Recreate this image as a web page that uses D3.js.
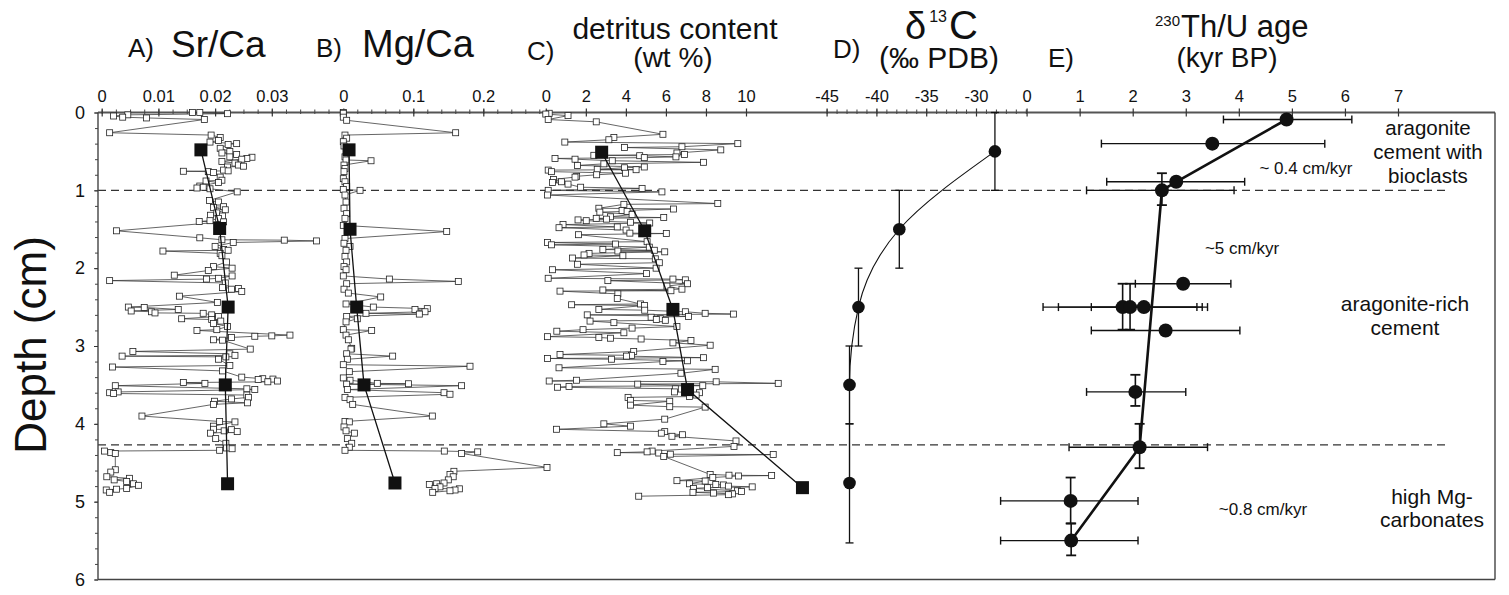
<!DOCTYPE html>
<html lang="en">
<head>
<meta charset="utf-8">
<title>Depth profiles: Sr/Ca, Mg/Ca, detritus, d13C, Th/U age</title>
<script src="https://d3js.org/d3.v7.min.js"></script>
<style>
  body { margin: 0; background: #fff; }
  svg text { font-family: "Liberation Sans", Arial, Helvetica, sans-serif; fill: #111; }
</style>
</head>
<body>
<div id="chart"></div>
<script>

/* ------------------------------------------------------------
 *  Data
 * ------------------------------------------------------------ */
// A) Sr/Ca, single samples
var srDepth = [0.00,0.00,0.015,0.03,0.045,0.06,0.07,0.09,0.26,0.29,0.32,0.36,0.38,0.40,0.41,0.46,0.50,0.52,0.54,0.57,0.575,0.59,0.60,0.63,0.65,0.675,0.69,0.70,0.74,0.75,0.755,0.76,0.77,0.83,0.87,0.88,0.90,0.945,0.96,0.97,0.98,1.02,1.13,1.15,1.21,1.22,1.25,1.29,1.32,1.33,1.36,1.39,1.40,1.405,1.52,1.61,1.635,1.64,1.65,1.67,1.72,1.76,1.77,1.78,1.81,1.84,1.92,1.98,2.00,2.03,2.09,2.10,2.13,2.14,2.16,2.19,2.25,2.26,2.27,2.30,2.36,2.44,2.50,2.505,2.53,2.55,2.56,2.575,2.58,2.60,2.62,2.65,2.66,2.68,2.71,2.75,2.79,2.80,2.86,2.87,2.875,2.89,2.92,2.925,3.04,3.07,3.10,3.12,3.13,3.14,3.17,3.25,3.27,3.32,3.40,3.42,3.425,3.43,3.45,3.46,3.47,3.48,3.51,3.55,3.56,3.59,3.60,3.61,3.63,3.66,3.68,3.71,3.73,3.75,3.90,3.97,3.975,4.03,4.07,4.075,4.09,4.10,4.12,4.19,4.25,4.31,4.32,4.34,4.35,4.37,4.38,4.59,4.62,4.68,4.70,4.72,4.74,4.77,4.79,4.83,4.84,4.85,4.88];
var srCa = [0.0160,0.0173,0.0222,0.0046,0.0021,0.0037,0.0079,0.0181,0.0014,0.0193,0.0209,0.0206,0.0191,0.0238,0.0223,0.0209,0.0226,0.0212,0.0238,0.0226,0.0265,0.0256,0.0247,0.0212,0.0235,0.0241,0.0250,0.0222,0.0215,0.0223,0.0144,0.0188,0.0197,0.0209,0.0212,0.0184,0.0206,0.0173,0.0179,0.0168,0.0191,0.0239,0.0190,0.0206,0.0215,0.0197,0.0218,0.0203,0.0192,0.0213,0.0206,0.0191,0.0172,0.0215,0.0026,0.0173,0.0212,0.0322,0.0379,0.0232,0.0200,0.0215,0.0223,0.0108,0.0209,0.0212,0.0220,0.0197,0.0230,0.0188,0.0128,0.0230,0.0206,0.0185,0.0014,0.0218,0.0213,0.0241,0.0229,0.0247,0.0137,0.0204,0.0047,0.0075,0.0135,0.0052,0.0088,0.0094,0.0179,0.0194,0.0206,0.0141,0.0194,0.0210,0.0197,0.0222,0.0203,0.0168,0.0332,0.0300,0.0270,0.0229,0.0197,0.0213,0.0262,0.0055,0.0226,0.0235,0.0036,0.0219,0.0206,0.0226,0.0019,0.0213,0.0247,0.0284,0.0302,0.0276,0.0310,0.0293,0.0144,0.0182,0.0024,0.0256,0.0270,0.0029,0.0014,0.0021,0.0256,0.0259,0.0229,0.0199,0.0257,0.0197,0.0071,0.0208,0.0235,0.0197,0.0197,0.0229,0.0216,0.0239,0.0192,0.0201,0.0219,0.0220,0.0230,0.0208,0.0005,0.0016,0.0024,0.0024,0.0016,0.0009,0.0049,0.0022,0.0044,0.0056,0.0065,0.0044,0.0026,0.0008,0.0014];
var srMeanDepth = [0.48, 1.49, 2.50, 3.50, 4.77];
var srMean = [0.0175, 0.0208, 0.0223, 0.0218, 0.0222];

// B) Mg/Ca, single samples
var mgDepth = [0.00,0.01,0.06,0.10,0.26,0.29,0.33,0.375,0.43,0.57,0.61,0.62,0.675,0.72,0.76,0.85,0.89,0.95,0.99,1.00,1.06,1.15,1.23,1.30,1.36,1.45,1.53,1.62,1.68,1.72,1.77,1.85,1.92,1.98,2.02,2.10,2.14,2.17,2.20,2.27,2.32,2.37,2.46,2.50,2.52,2.53,2.56,2.58,2.59,2.62,2.65,2.69,2.79,2.80,2.86,2.92,3.03,3.04,3.10,3.13,3.17,3.24,3.26,3.33,3.41,3.44,3.48,3.485,3.49,3.51,3.56,3.60,3.62,3.66,3.69,3.75,3.90,3.97,3.975,4.04,4.09,4.12,4.19,4.25,4.30,4.34,4.35,4.36,4.38,4.56,4.61,4.65,4.68,4.72,4.76,4.77,4.78,4.81,4.83,4.835,4.85,4.86,4.88];
var mgCa = [0.000,0.000,0.000,0.0048,0.1605,0.0024,0.0048,0.000,0.0010,0.0024,0.0039,0.0396,0.0010,0.0024,0.0010,0.000,0.0024,0.0048,0.000,0.0239,0.0024,0.0039,0.0010,0.0048,0.0024,0.000,0.1477,0.0024,0.0010,0.0096,0.0039,0.0024,0.0048,0.0010,0.0039,0.000,0.0658,0.1643,0.0048,0.0010,0.0072,0.0534,0.0039,0.0429,0.1200,0.1024,0.1167,0.0324,0.1086,0.0048,0.0200,0.0039,0.000,0.0405,0.0039,0.0072,0.0120,0.0110,0.0048,0.0705,0.0058,0.000,0.1810,0.0086,0.000,0.0096,0.0486,0.0930,0.0048,0.1690,0.0058,0.1439,0.1524,0.0024,0.0096,0.0134,0.1272,0.0024,0.0086,0.0010,0.0039,0.0158,0.0058,0.0120,0.0086,0.0024,0.1443,0.1920,0.1690,0.2910,0.1580,0.1524,0.1570,0.1500,0.1439,0.1334,0.1229,0.1381,0.1310,0.1658,0.1596,0.1524,0.1277];
var mgMeanDepth = [0.48, 1.50, 2.50, 3.50, 4.76];
var mgMean = [0.0082, 0.0096, 0.0191, 0.0296, 0.0738];

// C) detritus content (wt %), single samples
var detDepth = [0.01,0.02,0.04,0.09,0.12,0.28,0.32,0.35,0.38,0.40,0.44,0.45,0.48,0.52,0.54,0.55,0.555,0.57,0.58,0.59,0.60,0.62,0.64,0.66,0.68,0.70,0.71,0.73,0.735,0.74,0.76,0.78,0.80,0.82,0.83,0.86,0.89,0.90,0.92,0.96,0.975,1.00,1.02,1.06,1.17,1.18,1.23,1.24,1.26,1.27,1.28,1.31,1.34,1.35,1.36,1.37,1.38,1.39,1.41,1.42,1.44,1.47,1.48,1.51,1.55,1.555,1.57,1.66,1.67,1.69,1.70,1.73,1.76,1.77,1.78,1.79,1.81,1.83,1.84,1.87,1.88,1.93,1.95,2.00,2.02,2.07,2.13,2.14,2.15,2.16,2.20,2.23,2.27,2.28,2.29,2.295,2.33,2.39,2.46,2.47,2.48,2.53,2.54,2.56,2.58,2.59,2.60,2.62,2.63,2.65,2.66,2.67,2.68,2.70,2.75,2.77,2.79,2.81,2.83,2.88,2.89,2.90,2.91,2.93,2.96,2.99,3.07,3.11,3.12,3.13,3.15,3.16,3.17,3.19,3.20,3.28,3.30,3.35,3.44,3.45,3.46,3.48,3.49,3.51,3.52,3.53,3.55,3.59,3.60,3.63,3.65,3.66,3.70,3.71,3.76,3.78,3.785,3.94,4.00,4.03,4.07,4.10,4.12,4.14,4.16,4.22,4.29,4.35,4.36,4.37,4.375,4.39,4.395,4.42,4.65,4.66,4.665,4.67,4.69,4.73,4.735,4.77,4.78,4.785,4.80,4.81,4.82,4.83,4.86,4.87,4.88,4.89,4.90,4.91,4.93];
var detritus = [0.17,0.00,1.11,0.12,2.52,5.85,3.40,3.15,0.95,9.59,6.80,3.93,8.74,6.55,6.93,2.40,4.69,6.50,4.92,0.46,1.46,3.32,7.88,2.90,1.58,4.92,3.93,2.57,4.51,0.12,0.28,3.98,2.54,1.54,1.46,0.38,0.78,0.33,1.11,1.74,4.81,0.12,5.80,0.08,8.59,3.90,2.65,6.38,3.81,4.06,2.70,4.31,3.23,5.89,2.52,3.03,1.61,2.02,4.23,5.19,0.86,3.57,0.66,4.01,4.20,6.02,1.63,5.06,0.08,3.48,0.28,5.17,2.85,5.42,3.60,5.94,2.16,1.91,3.85,1.33,5.47,5.67,1.58,5.51,0.33,5.03,0.12,6.35,6.97,3.10,7.08,6.05,6.80,2.85,6.25,0.71,3.60,3.57,4.73,1.29,4.93,2.65,4.94,6.97,7.96,9.37,2.07,7.13,5.26,5.72,5.52,5.97,2.21,3.40,6.55,4.31,1.86,0.55,3.90,0.08,2.65,3.23,4.76,7.25,6.35,8.21,4.39,0.71,4.28,4.03,7.88,0.08,3.28,7.08,5.85,0.66,8.46,6.75,1.53,0.17,8.51,11.61,4.59,7.84,1.16,0.58,6.47,6.43,7.68,7.51,7.18,4.11,4.23,6.19,4.23,6.19,7.96,5.94,2.90,4.23,0.53,5.94,5.77,6.83,6.30,9.50,9.40,5.31,5.06,3.57,5.64,6.22,11.36,5.89,8.21,9.15,11.28,9.62,8.34,6.55,7.96,7.18,8.49,8.87,9.12,10.31,8.08,7.38,9.57,9.78,7.35,8.38,9.32,9.12,4.64];
var detMeanDepth = [0.51, 1.52, 2.53, 3.56, 4.82];
var detMean = [2.79, 4.94, 6.35, 7.08, 12.82];

// D) d13C (permil PDB) with depth range of each sample
var c13Depth = [0.5, 1.5, 2.5, 3.5, 4.76];
var c13 = [-28.1, -37.7, -41.8, -42.7, -42.7];
var c13Top = [0.0, 1.0, 2.0, 3.0, 4.0];
var c13Bottom = [1.0, 2.0, 3.0, 4.0, 5.53];

// E) 230Th/U ages (kyr BP) with 2-sigma ranges
var ageDepth = [0.09, 0.40, 0.89, 1.00, 2.20, 2.50, 2.50, 2.50, 2.80, 3.59, 4.30, 4.99, 5.50];
var age = [4.90, 3.50, 2.82, 2.55, 2.95, 1.81, 1.95, 2.21, 2.62, 2.05, 2.13, 0.83, 0.84];
var ageLow = [3.71, 1.41, 1.51, 1.13, 2.05, 0.31, 0.60, 1.22, 1.22, 1.13, 0.80, -0.49, -0.49];
var ageHigh = [6.13, 5.62, 4.11, 3.91, 3.85, 3.21, 3.31, 3.41, 4.02, 3.00, 3.41, 2.10, 2.10];
var ageDepthTop = [null, null, null, 0.78, null, 2.20, 2.20, null, null, 3.37, 4.00, 4.69, 5.28];
var ageDepthBottom = [null, null, null, 1.19, null, 2.79, 2.79, null, null, 3.77, 4.57, 5.28, 5.69];
// age model
var modelDepth = [0.09, 0.89, 1.00, 4.30, 5.50];
var modelAge = [4.90, 2.82, 2.55, 2.13, 0.84];

// unit boundaries
var boundaries = [1.0, 4.27];

// tick labels
var depthTicks = [0, 1, 2, 3, 4, 5, 6];
var srTicks = [0, 0.01, 0.02, 0.03];
var mgTicks = [0, 0.1, 0.2];
var detTicks = [0, 2, 4, 6, 8, 10];
var c13Ticks = [-45, -40, -35, -30];
var ageTicks = [0, 1, 2, 3, 4, 5, 6, 7];

/* ------------------------------------------------------------
 *  Setup
 * ------------------------------------------------------------ */
var width = 1509, height = 595;
var left = 98, right = 1495, top0 = 112.5, bottom = 579.5;
var font = '"Liberation Sans", Arial, Helvetica, sans-serif';

var svg = d3.select("#chart").append("svg")
    .attr("width", width)
    .attr("height", height)
    .style("display", "block");

var y = d3.scaleLinear().domain([0, 6]).range([top0, bottom]);
var xA = d3.scaleLinear().domain([0, 0.03]).range([101.7, 271.8]);
var xB = d3.scaleLinear().domain([0, 0.2]).range([343.3, 483.3]);
var xC = d3.scaleLinear().domain([0, 10]).range([545.8, 746]);
var xD = d3.scaleLinear().domain([-45, -30]).range([826.6, 976]);
var xE = d3.scaleLinear().domain([0, 7]).range([1026.6, 1398]);

// unit boundaries (dashed)
svg.append("g").selectAll("line")
    .data(boundaries)
    .join("line")
    .attr("x1", left).attr("x2", 1449)
    .attr("y1", d => y(d)).attr("y2", d => y(d))
    .attr("stroke", "#333")
    .attr("stroke-width", 1.3)
    .attr("stroke-dasharray", "8,5");

// frame
svg.append("line").attr("x1", left).attr("x2", right).attr("y1", top0).attr("y2", top0)
    .attr("stroke", "#555").attr("stroke-width", 1.8);
svg.append("line").attr("x1", right).attr("x2", right).attr("y1", top0).attr("y2", bottom)
    .attr("stroke", "#444").attr("stroke-width", 1.4);
svg.append("line").attr("x1", left).attr("x2", right).attr("y1", bottom).attr("y2", bottom)
    .attr("stroke", "#444").attr("stroke-width", 1.4);
svg.append("line").attr("x1", left).attr("x2", left).attr("y1", top0).attr("y2", bottom)
    .attr("stroke", "#444").attr("stroke-width", 1.4);

/* Top axis of one panel: labelled major ticks crossing the line, small minor ticks */
function topAxis(scale, majors, minors){
    if (minors) {
        let gm = svg.append("g").attr("transform", `translate(0,${top0})`)
            .call(d3.axisTop(scale).tickValues(minors).tickSize(3).tickFormat(""));
        gm.select(".domain").remove();
        gm.selectAll(".tick line").attr("y1", 1.5).attr("stroke", "#444");
    }
    let g = svg.append("g").attr("transform", `translate(0,${top0})`)
        .call(d3.axisTop(scale).tickValues(majors).tickSize(4).tickPadding(7).tickFormat(d => String(d)));
    g.select(".domain").remove();
    g.selectAll(".tick line").attr("y1", 4).attr("stroke", "#333").attr("stroke-width", 1.2);
    g.selectAll(".tick text")
        .style("font-size", "16.5px")
        .style("font-family", font)
        .attr("fill", "#111");
}

topAxis(xA, srTicks, d3.range(0, 0.0401, 0.0025));
topAxis(xB, mgTicks, d3.range(0, 0.281, 0.02));
topAxis(xC, detTicks, null);
topAxis(xD, c13Ticks, d3.range(-45, -24.5, 1));
topAxis(xE, ageTicks, null);

// depth axis
var gyMinor = svg.append("g").attr("transform", `translate(${left},0)`)
    .call(d3.axisLeft(y).tickValues(d3.range(0, 6.01, 0.2)).tickSize(3).tickFormat(""));
gyMinor.select(".domain").remove();
gyMinor.selectAll(".tick line").attr("stroke", "#444");
var gy = svg.append("g").attr("transform", `translate(${left},0)`)
    .call(d3.axisLeft(y).tickValues(depthTicks).tickSize(4).tickPadding(9).tickFormat(d => String(d)));
gy.select(".domain").remove();
gy.selectAll(".tick line").attr("stroke", "#333");
gy.selectAll(".tick text")
    .style("font-size", "18px")
    .style("font-family", font)
    .attr("fill", "#111");

svg.append("text")
    .attr("transform", "translate(46,345) rotate(-90)")
    .attr("text-anchor", "middle")
    .attr("font-size", 44)
    .text("Depth (cm)");

/* ------------------------------------------------------------
 *  Titles
 * ------------------------------------------------------------ */
function label(txt, x, yy, size, anchor){
    return svg.append("text").attr("x", x).attr("y", yy)
        .attr("font-size", size)
        .attr("text-anchor", anchor || "start")
        .text(txt);
}
label("A)", 128, 57, 26);
label("Sr/Ca", 171, 57, 37);
label("B)", 316, 57, 26);
label("Mg/Ca", 362, 57, 38);
label("C)", 527, 60, 26);
label("detritus content", 675, 39, 30, "middle");
label("(wt %)", 673, 67, 28, "middle");
label("D)", 833, 58, 26);

// delta 13 C with superscript
var t13 = svg.append("text").attr("x", 905).attr("y", 39);
t13.append("tspan").attr("font-size", 38).text("\u03B4");
t13.append("tspan").attr("font-size", 16).attr("dx", 3).attr("dy", -17).text("13");
t13.append("tspan").attr("font-size", 40).attr("dx", 2).attr("dy", 17).text("C");
label("(\u2030 PDB)", 939, 68, 30, "middle");

label("E)", 1048, 67, 26);
var tTh = svg.append("text").attr("x", 1155).attr("y", 37);
tTh.append("tspan").attr("font-size", 15).attr("dy", -11).text("230");
tTh.append("tspan").attr("font-size", 31).attr("dx", 1).attr("dy", 11).text("Th/U age");
label("(kyr BP)", 1227, 67, 28, "middle");

/* ------------------------------------------------------------
 *  Profiles A-C: thin line through all samples + open squares,
 *  line through the mean values + filled squares
 * ------------------------------------------------------------ */
function profile(x, depths, values, meanDepths, means){
    let g = svg.append("g");
    let pts = depths.map((d, i) => [x(values[i]), y(d)]);
    g.append("path")
        .attr("d", d3.line()(pts))
        .attr("fill", "none")
        .attr("stroke", "#333")
        .attr("stroke-width", 0.75);
    g.selectAll("rect.s")
        .data(pts)
        .join("rect")
        .attr("class", "s")
        .attr("x", p => p[0] - 3).attr("y", p => p[1] - 3)
        .attr("width", 6).attr("height", 6)
        .attr("fill", "#fff")
        .attr("stroke", "#222")
        .attr("stroke-width", 0.8);
    let mp = meanDepths.map((d, i) => [x(means[i]), y(d)]);
    g.append("path")
        .attr("d", d3.line()(mp))
        .attr("fill", "none")
        .attr("stroke", "#111")
        .attr("stroke-width", 1.3);
    g.selectAll("rect.m")
        .data(mp)
        .join("rect")
        .attr("class", "m")
        .attr("x", p => p[0] - 6.5).attr("y", p => p[1] - 6.5)
        .attr("width", 13).attr("height", 13)
        .attr("fill", "#111");
}
profile(xA, srDepth, srCa, srMeanDepth, srMean);
profile(xB, mgDepth, mgCa, mgMeanDepth, mgMean);
profile(xC, detDepth, detritus, detMeanDepth, detMean);

/* ------------------------------------------------------------
 *  D) d13C
 * ------------------------------------------------------------ */
var gD = svg.append("g");
gD.append("path")
    .attr("d", d3.line().curve(d3.curveMonotoneY)(c13.map((v, i) => [xD(v), y(c13Depth[i])])))
    .attr("fill", "none")
    .attr("stroke", "#111")
    .attr("stroke-width", 1.1);
c13.forEach((v, i) => {
    let cx = xD(v);
    gD.append("line").attr("x1", cx).attr("x2", cx)
        .attr("y1", y(c13Top[i])).attr("y2", y(c13Bottom[i]))
        .attr("stroke", "#111").attr("stroke-width", 1.3);
    [c13Top[i], c13Bottom[i]].forEach(dd => {
        gD.append("line").attr("x1", cx - 4).attr("x2", cx + 4)
            .attr("y1", y(dd)).attr("y2", y(dd))
            .attr("stroke", "#111").attr("stroke-width", 1.3);
    });
});
gD.selectAll("circle")
    .data(c13)
    .join("circle")
    .attr("cx", d => xD(d))
    .attr("cy", (d, i) => y(c13Depth[i]))
    .attr("r", 6.3)
    .attr("fill", "#111");

/* ------------------------------------------------------------
 *  E) 230Th/U ages
 * ------------------------------------------------------------ */
var gE = svg.append("g");
age.forEach((a, i) => {
    let cy = y(ageDepth[i]);
    gE.append("line").attr("x1", xE(ageLow[i])).attr("x2", xE(ageHigh[i]))
        .attr("y1", cy).attr("y2", cy)
        .attr("stroke", "#111").attr("stroke-width", 1.4);
    [ageLow[i], ageHigh[i]].forEach(v => {
        gE.append("line").attr("x1", xE(v)).attr("x2", xE(v))
            .attr("y1", cy - 4).attr("y2", cy + 4)
            .attr("stroke", "#111").attr("stroke-width", 1.4);
    });
    if (ageDepthTop[i] !== null) {
        let cx = xE(a);
        gE.append("line").attr("x1", cx).attr("x2", cx)
            .attr("y1", y(ageDepthTop[i])).attr("y2", y(ageDepthBottom[i]))
            .attr("stroke", "#111").attr("stroke-width", 1.6);
        [ageDepthTop[i], ageDepthBottom[i]].forEach(dd => {
            gE.append("line").attr("x1", cx - 5).attr("x2", cx + 5)
                .attr("y1", y(dd)).attr("y2", y(dd))
                .attr("stroke", "#111").attr("stroke-width", 1.8);
        });
    }
});
gE.append("path")
    .attr("d", d3.line()(modelAge.map((a, i) => [xE(a), y(modelDepth[i])])))
    .attr("fill", "none")
    .attr("stroke", "#111")
    .attr("stroke-width", 2.6);
gE.selectAll("circle")
    .data(age)
    .join("circle")
    .attr("cx", d => xE(d))
    .attr("cy", (d, i) => y(ageDepth[i]))
    .attr("r", 7)
    .attr("fill", "#111");

// growth rates and facies
label("~ 0.4 cm/kyr", 1306, 174, 17, "middle");
label("~5 cm/kyr", 1242, 254, 17, "middle");
label("~0.8 cm/kyr", 1263, 515, 17, "middle");
label("aragonite", 1428, 135, 20.5, "middle");
label("cement with", 1428, 159, 20.5, "middle");
label("bioclasts", 1428, 183, 20.5, "middle");
label("aragonite-rich", 1405, 311, 21, "middle");
label("cement", 1405, 335, 21, "middle");
label("high Mg-", 1432, 504, 21, "middle");
label("carbonates", 1432, 527, 21, "middle");

</script>
</body>
</html>
